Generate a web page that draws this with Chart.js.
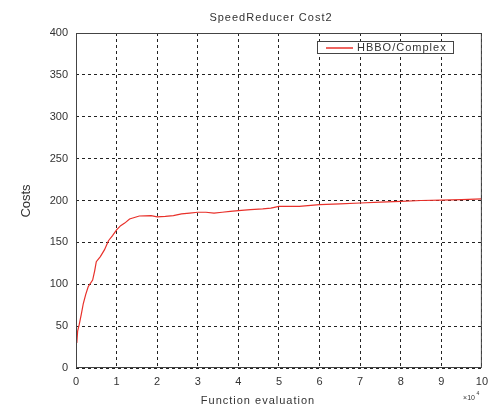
<!DOCTYPE html>
<html>
<head>
<meta charset="utf-8">
<script src="https://cdn.jsdelivr.net/npm/chart.js@4.4.0/dist/chart.umd.min.js"></script>
<style>
  html, body { margin: 0; padding: 0; background: #fff; }
  #wrap { width: 495px; height: 410px; }
</style>
</head>
<body>
<div id="wrap"><canvas id="costChart" width="495" height="410"></canvas></div>
<script>
// function evaluations, in units of 10^4
const evals = [0, 0.02, 0.04, 0.08, 0.13, 0.18, 0.24, 0.3, 0.41, 0.46, 0.5, 0.6, 0.7, 0.8, 0.9, 1.0, 1.1, 1.2, 1.32, 1.56, 1.85, 2.0, 2.2, 2.4, 2.6, 2.8, 3.0, 3.2, 3.4, 3.6, 3.8, 4.0, 4.3, 4.6, 4.8, 5.0, 5.5, 6.0, 6.5, 7.0, 7.5, 8.0, 8.5, 9.0, 9.5, 10];
const costs = [36, 30, 44, 52, 64, 77, 88, 97, 105, 116, 127, 133, 141, 152, 158, 165, 170, 173, 178, 181.5, 182, 180.5, 181, 182, 184, 185, 186, 186, 185, 186, 187, 188, 189, 190, 191, 193, 193, 195, 196, 197, 198, 199, 200, 200.5, 201, 202];
const seriesName = "HBBO/Complex";
const chartTitle = "SpeedReducer Cost2";
const xTitle = "Function evaluation";
const yTitle = "Costs";

const points = evals.map((x, i) => ({ x, y: costs[i] }));

// titles, frame and the in-plot legend
const decor = {
  id: "decor",
  afterDraw(chart) {
    const { ctx, chartArea: a } = chart;
    ctx.save();
    // solid frame
    ctx.strokeStyle = "#444";
    ctx.lineWidth = 1;
    ctx.setLineDash([]);
    ctx.strokeRect(a.left + 0.5, a.top + 0.5, a.right - a.left - 1, a.bottom - a.top - 1);

    ctx.fillStyle = "#333";
    ctx.textAlign = "center";
    ctx.textBaseline = "middle";
    ctx.font = "11px 'Liberation Sans', Arial, sans-serif";
    ctx.letterSpacing = "1px";
    ctx.fillText(chartTitle, 271, 18);
    ctx.fillText(xTitle, 258, 401);

    ctx.letterSpacing = "0px";
    ctx.font = "13px 'Liberation Sans', Arial, sans-serif";
    ctx.translate(26, 201);
    ctx.rotate(-Math.PI / 2);
    ctx.fillText(yTitle, 0, 0);
    ctx.setTransform(1, 0, 0, 1, 0, 0);

    ctx.font = "7px 'Liberation Sans', Arial, sans-serif";
    ctx.fillText("×10", 469, 398);
    ctx.font = "5px 'Liberation Sans', Arial, sans-serif";
    ctx.fillText("4", 478, 394);

    // legend
    const lx = 317, ly = 41, lw = 136, lh = 12;
    ctx.fillStyle = "#fff";
    ctx.fillRect(lx, ly, lw, lh);
    ctx.strokeStyle = "#444";
    ctx.strokeRect(lx + 0.5, ly + 0.5, lw, lh);
    ctx.strokeStyle = "#e8302a";
    ctx.lineWidth = 1.5;
    ctx.beginPath();
    ctx.moveTo(326, ly + lh / 2 + 1);
    ctx.lineTo(353, ly + lh / 2 + 1);
    ctx.stroke();
    ctx.fillStyle = "#333";
    ctx.textAlign = "left";
    ctx.font = "11px 'Liberation Sans', Arial, sans-serif";
    ctx.letterSpacing = "1px";
    ctx.fillText(seriesName, 357, ly + lh / 2 + 1);
    ctx.restore();
  }
};

new Chart(document.getElementById("costChart"), {
  type: "line",
  data: {
    datasets: [
      {
        label: seriesName,
        data: points,
        borderColor: "#e8302a",
        borderWidth: 1.2,
        pointRadius: 0,
        tension: 0,
        fill: false,
      },
    ],
  },
  options: {
    responsive: false,
    animation: false,
    layout: { padding: { top: 33, right: 9, left: 0, bottom: 0 } },
    plugins: {
      legend: { display: false },
      tooltip: { enabled: false },
    },
    scales: {
      x: {
        type: "linear",
        min: 0,
        max: 10,
        afterFit: (s) => { s.height = 42; },
        border: { display: false, dash: [3, 3] },
        grid: { color: "#222", lineWidth: 1, drawTicks: false },
        ticks: {
          stepSize: 1,
          padding: 7,
          color: "#333",
          font: { family: "'Liberation Sans', Arial, sans-serif", size: 11 },
        },
      },
      y: {
        min: 0,
        max: 400,
        afterFit: (s) => { s.width = 76; },
        border: { display: false, dash: [3, 3] },
        grid: { color: "#222", lineWidth: 1, drawTicks: false },
        ticks: {
          stepSize: 50,
          padding: 8,
          color: "#333",
          font: { family: "'Liberation Sans', Arial, sans-serif", size: 11 },
        },
      },
    },
  },
  plugins: [decor],
});
</script>
</body>
</html>
